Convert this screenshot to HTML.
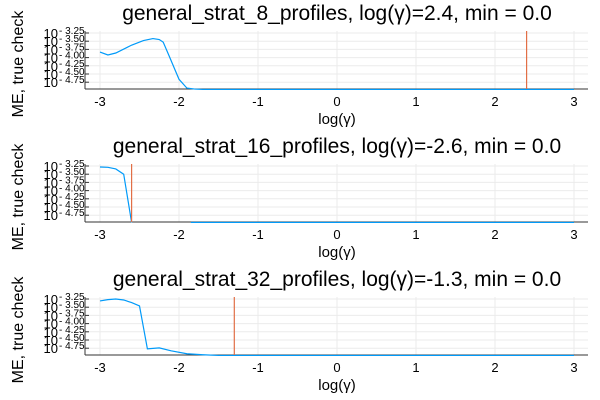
<!DOCTYPE html>
<html><head><meta charset="utf-8"><style>
body{margin:0;background:#fff;}
svg{display:block;font-family:"Liberation Sans","DejaVu Sans",sans-serif;}
</style></head><body>
<svg id="chart" width="600" height="400"></svg>
<script>
const titles=["general_strat_8_profiles, log(γ)=2.4, min = 0.0","general_strat_16_profiles, log(γ)=-2.6, min = 0.0","general_strat_32_profiles, log(γ)=-1.3, min = 0.0"];
const markers=[2.4,-2.6,-1.3];
const xTicks=[-3,-2,-1,0,1,2,3];
const yTicks=[-3.25,-3.5,-3.75,-4.0,-4.25,-4.5,-4.75];
const yTickLabels=["3.25","3.50","3.75","4.00","4.25","4.50","4.75"];
const x1=[-3,-2.9,-2.8,-2.6,-2.45,-2.33,-2.25,-2.2,-2.13,-2.0,-1.9,-1.8,-1.7,-1.5,-1,0,1,2,3];
const y1=[-3.83,-3.92,-3.86,-3.62,-3.48,-3.42,-3.45,-3.53,-3.92,-4.66,-4.93,-4.96,-4.97,-4.97,-4.97,-4.97,-4.97,-4.97,-4.97];
const x2a=[-3,-2.9,-2.8,-2.7,-2.6];
const y2a=[-3.28,-3.29,-3.34,-3.5,-4.97];
const x2b=[-1.85,-1,0,1,2,3];
const y2b=[-4.97,-4.97,-4.97,-4.97,-4.97,-4.97];
const x3=[-3,-2.9,-2.8,-2.7,-2.6,-2.5,-2.4,-2.25,-2.1,-1.9,-1.7,-1.5,-1,0,1,2,3];
const y3=[-3.31,-3.27,-3.25,-3.28,-3.36,-3.46,-4.77,-4.74,-4.83,-4.92,-4.95,-4.97,-4.97,-4.97,-4.97,-4.97,-4.97];
const series=[[[x1,y1]],[[x2a,y2a],[x2b,y2b]],[[x3,y3]]];
const tops=[31,164,297];
const NS="http://www.w3.org/2000/svg";
const svg=document.getElementById('chart');
function mk(t,a,p){const e=document.createElementNS(NS,t);for(const k in a)e.setAttribute(k,a[k]);(p||svg).appendChild(e);return e;}
const L=85,R=588;
const xs=v=>337+v*79;
for(let p=0;p<3;p++){
  const top=tops[p],bot=top+58;
  const ys=v=>top+2+(-3.25-v)*32.8;
  const g=mk('g',{});
  
  
  xTicks.forEach(t=>{const l=mk('line',{x1:xs(t),x2:xs(t),y1:top,y2:bot,stroke:'#ebebeb','stroke-width':1},g);
    
    const tx=mk('text',{x:xs(t),y:bot+17,'font-size':13,'text-anchor':'middle',fill:'#000'},g);tx.textContent=t;
    });
  yTicks.forEach((t,i)=>{const y=ys(t);
    const l=mk('line',{x1:L,x2:R,y1:y,y2:y,stroke:'#ebebeb','stroke-width':1},g);
    
    mk('line',{x1:L,x2:L+4,y1:y,y2:y,stroke:'#333'},g);
    const tx=mk('text',{x:58,y:y+5,'font-size':13,'text-anchor':'end',fill:'#000'},g);tx.textContent='10';
    
    const s=mk('text',{x:59,y:y+1,'font-size':10,fill:'#000'},g);s.textContent='- '+yTickLabels[i];
    });
  mk('line',{x1:L,x2:L,y1:top,y2:bot,stroke:'#333','stroke-width':1},g);
  mk('line',{x1:L,x2:R,y1:bot,y2:bot,stroke:'#333','stroke-width':1},g);
  series[p].forEach(([xa,ya])=>{
    const pl=mk('polyline',{points:xa.map((x,i)=>xs(x)+','+ys(ya[i])).join(' '),fill:'none',stroke:'#009af9','stroke-width':1.2},g);
    });
  const ml=mk('line',{x1:xs(markers[p]),x2:xs(markers[p]),y1:top,y2:bot,stroke:'#e26f46','stroke-width':1.2},g);
  
  const ti=mk('text',{x:337,y:top-11,'font-size':21,'text-anchor':'middle',fill:'#000'},g);ti.textContent=titles[p];
  
  const xl=mk('text',{x:337,y:bot+35,'font-size':15,'text-anchor':'middle',fill:'#000'},g);xl.textContent='log(γ)';
  
  const cy=(top+bot)/2+4;
  const yl=mk('text',{x:23,y:cy,'font-size':16,'text-anchor':'middle',fill:'#000',transform:'rotate(-90 23 '+cy+')'},g);yl.textContent='ME, true check';
  
}
</script>
</body></html>
